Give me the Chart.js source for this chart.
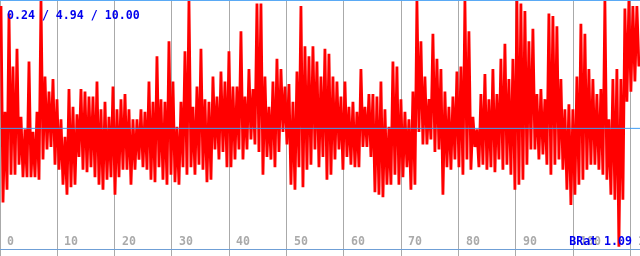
<!DOCTYPE html>
<html><head><meta charset="utf-8">
<script src="https://cdn.jsdelivr.net/npm/chart.js@4/dist/chart.umd.min.js"></script>
<style>html,body{margin:0;padding:0;background:#fff;overflow:hidden}#wrap{width:640px;height:256px}</style>
</head><body><div id="wrap"><canvas id="c" width="640" height="256"></canvas></div>
<script>
// x axis tick values (grid every 10)
const xTickValues = [0, 10, 20, 30, 40, 50, 60, 70, 80, 90, 100, 110];
// width of one reading bin in x units (each bin has a high and a low reading)
const binWidth = 0.6977;
// upper readings per bin
const highs = [
  9.8, 5.6, 9.5, 7.4, 8.1, 5.4, 4.9, 7.6, 4.8, 5.6,
  10.0, 7.0, 6.4, 6.9, 6.1, 5.3, 4.6, 6.5, 5.8, 5.5,
  6.5, 6.4, 6.2, 6.2, 6.8, 5.7, 6.0, 5.4, 6.6, 5.7,
  6.1, 6.3, 5.7, 5.3, 5.3, 5.7, 5.6, 6.8, 6.0, 7.8,
  6.1, 6.0, 8.4, 6.8, 5.0, 6.0, 8.0, 10.0, 5.8, 6.6,
  8.1, 6.1, 6.0, 7.0, 6.2, 7.2, 6.8, 8.0, 6.6, 6.6,
  8.8, 6.2, 7.3, 6.5, 9.9, 9.9, 7.0, 5.8, 6.8, 7.7,
  7.3, 6.6, 6.7, 6.0, 7.2, 9.8, 8.2, 7.8, 8.2, 7.6,
  7.0, 8.1, 7.9, 7.0, 6.8, 6.2, 6.8, 5.8, 6.0, 5.6,
  7.3, 5.8, 6.3, 6.3, 6.2, 6.8, 5.7, 5.0, 7.6, 7.4,
  6.1, 5.6, 5.3, 6.4, 10.0, 8.4, 7.0, 6.1, 8.7, 7.7,
  7.3, 6.4, 5.8, 6.2, 7.2, 7.4, 10.0, 8.8, 5.4, 4.9,
  6.3, 7.1, 6.1, 7.3, 6.3, 7.7, 8.3, 6.9, 7.7, 10.0,
  9.9, 9.6, 8.4, 8.9, 6.3, 6.5, 6.1, 9.5, 9.4, 9.0,
  6.9, 5.7, 5.9, 5.7, 7.0, 9.1, 8.7, 7.3, 6.9, 6.3,
  6.5, 10.0, 5.3, 6.9, 7.3, 6.9, 9.7, 10.0, 9.8, 9.8
];
// lower readings per bin
const lows = [
  2.0, 2.5, 3.1, 3.1, 3.5, 3.0, 3.0, 3.0, 3.0, 2.9,
  3.7, 4.1, 4.2, 3.5, 3.3, 2.7, 2.3, 2.6, 2.7, 3.8,
  3.3, 3.2, 3.4, 3.0, 2.7, 2.5, 2.9, 3.0, 2.3, 3.0,
  3.3, 3.3, 2.7, 3.3, 3.7, 3.4, 3.3, 2.9, 2.8, 3.4,
  2.9, 2.7, 3.1, 2.8, 2.7, 3.4, 3.1, 3.4, 3.1, 3.5,
  3.3, 2.8, 2.9, 4.1, 3.7, 4.0, 3.4, 3.4, 3.7, 4.1,
  3.7, 4.1, 4.5, 4.3, 4.0, 3.1, 3.8, 3.7, 3.4, 4.0,
  4.8, 4.3, 2.7, 2.5, 3.4, 2.6, 3.3, 3.5, 4.1, 3.4,
  3.8, 2.9, 3.1, 3.7, 4.1, 3.3, 3.8, 3.5, 3.4, 3.4,
  4.2, 4.2, 3.8, 2.4, 2.3, 2.2, 2.7, 2.7, 3.1, 2.7,
  3.0, 3.4, 2.5, 2.7, 4.8, 4.3, 4.3, 4.5, 4.0, 4.1,
  2.3, 3.4, 3.3, 3.7, 3.4, 3.1, 3.7, 3.3, 4.2, 3.4,
  3.5, 3.3, 3.4, 3.2, 3.7, 3.3, 3.5, 3.1, 2.5, 2.7,
  2.9, 3.5, 4.1, 4.1, 3.7, 3.9, 3.5, 3.1, 3.5, 3.7,
  3.3, 2.5, 1.9, 2.3, 2.7, 2.9, 3.3, 3.5, 3.5, 3.3,
  3.1, 2.9, 2.3, 2.1, 0.24, 2.1, 6.0, 6.4, 6.8, 7.4
];
// summary statistics shown as text
const statMin = 0.24, statAvg = 4.94, statMax = 10.00;
const bRatio = 1.09;

const series = [];
highs.forEach((h, k) => {
  series.push({ x: (k + 0.25) * binWidth, y: h });
  series.push({ x: (k + 0.75) * binWidth, y: lows[k] });
});
const X_MAX = 111.65;

const MONO = '"DejaVu Sans Mono", "Liberation Mono", monospace';
const overlay = {
  id: 'overlay',
  afterDatasetsDraw(chart) {
    const ctx = chart.ctx, a = chart.chartArea;
    ctx.save();
    ctx.lineWidth = 1;
    ctx.strokeStyle = '#5aaaf5';
    ctx.beginPath(); ctx.moveTo(a.left, a.top + 0.5); ctx.lineTo(a.right, a.top + 0.5); ctx.stroke();
    ctx.strokeStyle = '#6f9fd6';
    ctx.beginPath(); ctx.moveTo(a.left, a.bottom - 6.5); ctx.lineTo(a.right, a.bottom - 6.5); ctx.stroke();
    // x tick labels
    const xs = chart.scales.x;
    ctx.font = 'bold 11.6px ' + MONO;
    ctx.fillStyle = '#aaaaaa';
    ctx.textBaseline = 'alphabetic';
    ctx.textAlign = 'left';
    xTickValues.forEach(v => {
      ctx.fillText(String(v), Math.round(xs.getPixelForValue(v)) + 7, a.bottom - 11);
    });
    // texts
    ctx.fillStyle = '#0000ee';
    ctx.fillText(statMin.toFixed(2) + ' / ' + statAvg.toFixed(2) + ' / ' + statMax.toFixed(2), 7, 19);
    ctx.textAlign = 'right';
    ctx.fillText('BRat ' + bRatio.toFixed(2), 632, a.bottom - 11);
    ctx.restore();
  }
};

new Chart(document.getElementById('c'), {
  type: 'line',
  data: {
    datasets: [
      { data: [{ x: 0, y: statAvg }, { x: X_MAX, y: statAvg }], borderColor: '#3d9ef5', borderWidth: 1, pointRadius: 0 },
      { data: series, borderColor: '#ff0000', borderWidth: 2.8, pointRadius: 0, tension: 0, borderJoinStyle: 'bevel' }
    ]
  },
  options: {
    responsive: false, animation: false, devicePixelRatio: 1,
    layout: { padding: 0 },
    plugins: { legend: { display: false }, tooltip: { enabled: false } },
    scales: {
      x: {
        type: 'linear', min: 0, max: X_MAX,
        afterBuildTicks: s => { s.ticks = xTickValues.map(v => ({ value: v })); },
        ticks: { display: false },
        grid: { color: '#aaaaaa', lineWidth: 1, drawTicks: false },
        border: { display: false }
      },
      y: { type: 'linear', min: -0.131, max: 10.04, display: false }
    }
  },
  plugins: [overlay]
});
</script>
</body></html>
